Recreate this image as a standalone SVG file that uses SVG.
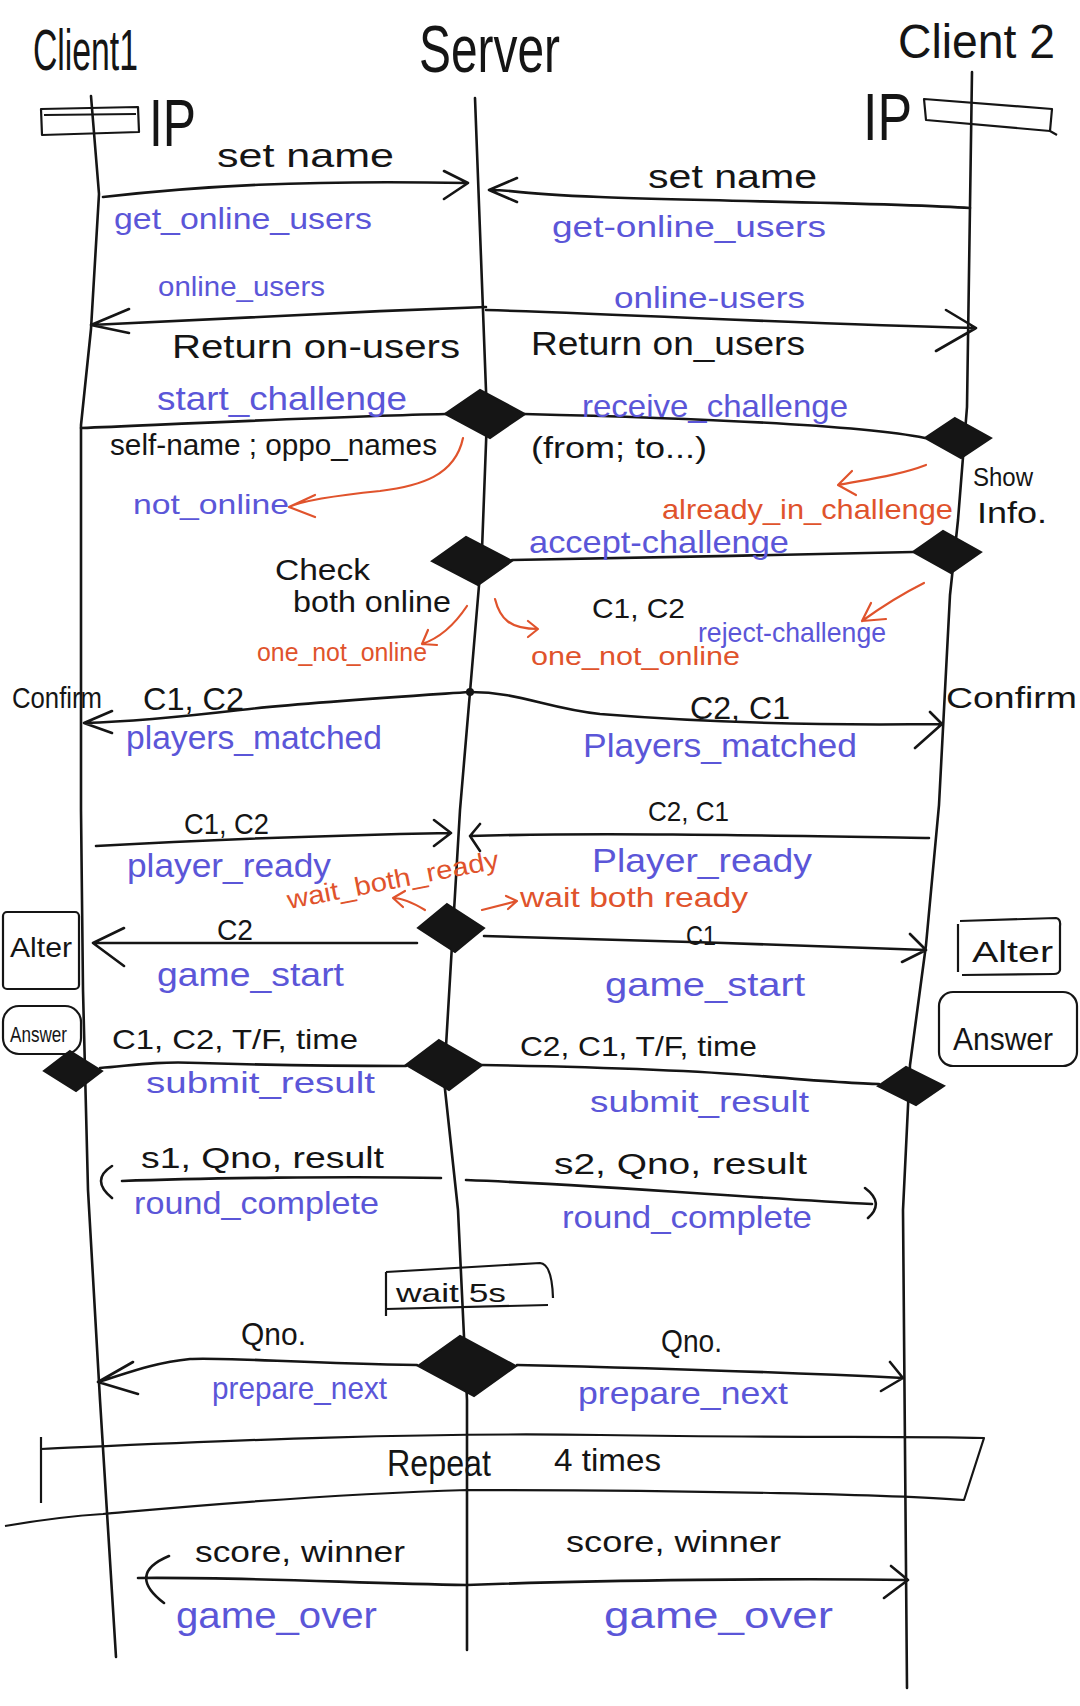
<svg xmlns="http://www.w3.org/2000/svg" width="1080" height="1706" viewBox="0 0 1080 1706">
<style>
text{font-family:"Liberation Sans",Arial,sans-serif;fill:#151515}
.b{fill:#5b56d8}
.r{fill:#e0532c}
.ln{fill:none;stroke:#151515;stroke-width:2.6;stroke-linecap:round;stroke-linejoin:round}
.rl{fill:none;stroke:#e0532c;stroke-width:2.2;stroke-linecap:round;stroke-linejoin:round}
.dm{fill:#151515;stroke:#151515;stroke-width:2}
.bx{fill:none;stroke:#151515;stroke-width:2.2;stroke-linejoin:round}
</style>
<rect width="1080" height="1706" fill="#ffffff"/>

<g id="client1">
  <text x="33" y="70" font-size="58" textLength="105" lengthAdjust="spacingAndGlyphs">Client1</text>
  <path class="bx" d="M41,109 L138,107 L139,132 L42,135 Z M44,115 L136,114"/>
  <text x="149" y="146" font-size="66" textLength="47" lengthAdjust="spacingAndGlyphs">IP</text>
  <path class="ln" d="M91,96 L99,194 L91,329 L81,425 L81,810 L83,990 L88,1190 L100,1400 L116,1657"/>
</g>
<g id="server">
  <text x="419" y="72" font-size="66" textLength="141" lengthAdjust="spacingAndGlyphs">Server</text>
  <path class="ln" d="M475,98 L487,417 L482,550 L470,692 L460,810 L444,1080 L458,1210 L467,1400 L467,1650"/>
</g>
<g id="client2">
  <text x="898" y="58" font-size="48" textLength="157" lengthAdjust="spacingAndGlyphs">Client 2</text>
  <path class="bx" d="M924,99 L1052,109 L1050,131 L926,120 Z M1050,131 L1057,135"/>
  <text x="863" y="140" font-size="66" textLength="49" lengthAdjust="spacingAndGlyphs">IP</text>
  <path class="ln" d="M972,72 L967,407 L958,520 L950,595 L939,805 L926,945 L910,1065 L903,1210 L907,1688"/>
</g>

<g id="activations">
  <polygon id="d-start" class="dm" points="480,390 525,414 490,438 445,414"/>
  <polygon id="d-receive" class="dm" points="955,418 991,438 961,458 925,438"/>
  <polygon id="d-accept" class="dm" points="943,531 981,552 951,573 913,552"/>
  <polygon id="d-check" class="dm" points="466,537 512,561 478,585 432,561"/>
  <polygon id="d-gamestart" class="dm" points="447,904 484,928 455,952 418,928"/>
  <polygon id="d-submit1" class="dm" points="70,1051 102,1071 76,1091 44,1071"/>
  <polygon id="d-submit-s" class="dm" points="439,1040 482,1065 449,1090 406,1065"/>
  <polygon id="d-submit2" class="dm" points="906,1067 944,1086 916,1105 878,1086"/>
  <polygon id="d-prepare" class="dm" points="460,1336 516,1366 474,1396 418,1366"/>
  <circle cx="470" cy="692" r="4" fill="#151515"/>
</g>

<g id="notes">
  <g id="alter1"><rect class="bx" x="3" y="912" width="76" height="77" rx="4"/>
    <text x="10" y="957" font-size="28" textLength="62" lengthAdjust="spacingAndGlyphs">Alter</text></g>
  <g id="answer1"><rect class="bx" x="3" y="1006" width="78" height="48" rx="16"/>
    <text x="10" y="1042" font-size="22" textLength="57" lengthAdjust="spacingAndGlyphs">Answer</text></g>
  <g id="alter2"><path class="bx" d="M960,921 L1056,918 Q1061,919 1060,926 L1060,970 Q1059,974 1054,974 L962,975"/>
    <path class="bx" d="M958,924 L958,972"/>
    <text x="972" y="962" font-size="30" textLength="81" lengthAdjust="spacingAndGlyphs">Alter</text></g>
  <g id="answer2"><rect class="bx" x="939" y="992" width="138" height="74" rx="14"/>
    <text x="953" y="1050" font-size="32" textLength="100" lengthAdjust="spacingAndGlyphs">Answer</text></g>
  <g id="wait5s"><path class="bx" d="M386,1272 L540,1263 Q552,1264 553,1298 M386,1272 L386,1316 M386,1309 L548,1305"/>
    <text x="396" y="1302" font-size="26" textLength="110" lengthAdjust="spacingAndGlyphs">wait 5s</text></g>
  <g id="repeat"><path class="bx" d="M41,1449 C200,1442 400,1432 600,1435 C800,1438 900,1436 984,1438 L964,1500 C900,1495 700,1490 468,1490 C300,1495 150,1510 103,1514 C70,1516 40,1520 5,1526 M41,1437 L41,1503"/>
    <text x="387" y="1476" font-size="36" textLength="104" lengthAdjust="spacingAndGlyphs">Repeat</text>
    <text x="554" y="1471" font-size="32" textLength="107" lengthAdjust="spacingAndGlyphs">4 times</text></g>
</g>

<g id="connectors">
  <path class="ln" d="M103,197 C200,186 300,180 468,183 M444,171 L468,183 L444,199"/>
  <path class="ln" d="M970,208 C900,203 700,201 600,197 S520,190 489,190 M517,178 L489,190 L517,202"/>
  <path class="ln" d="M486,307 C350,312 200,319 91,325 M129,309 L91,325 L129,333"/>
  <path class="ln" d="M486,310 C650,315 800,324 976,328 M946,310 L976,328 L936,351"/>
  <path class="ln" d="M81,428 C200,423 350,416 446,414"/>
  <path class="ln" d="M524,414 C650,417 850,423 925,438"/>
  <path class="ln" d="M913,552 C800,555 600,558 512,560"/>
  <path class="rl" d="M463,438 C455,476 420,486 380,491 C330,496 300,502 289,507 M315,495 L289,507 L315,517"/>
  <path class="rl" d="M926,465 C900,475 870,479 838,485 M852,471 L838,485 L856,495"/>
  <path class="rl" d="M467,606 C455,624 440,638 422,644 M437,645 L422,644 L428,630"/>
  <path class="rl" d="M495,599 C500,619 510,629 538,629 M528,621 L538,629 L528,637"/>
  <path class="rl" d="M924,583 C900,595 880,608 862,621 M886,619 L862,621 L871,603"/>
  <path class="ln" d="M470,692 C380,698 300,703 240,710 C180,717 120,722 84,723 M112,711 L84,723 L112,733"/>
  <path class="ln" d="M470,692 C520,692 545,708 600,714 C700,722 800,726 942,724 M930,712 L942,724 L915,748"/>
  <path class="ln" d="M96,846 C200,840 350,835 451,833 M434,820 L451,833 L434,846"/>
  <path class="ln" d="M929,838 C800,836 600,832 470,836 M480,824 L470,836 L480,851"/>
  <path class="rl" d="M425,910 C410,901 400,898 393,898 M405,891 L393,898 L403,907"/>
  <path class="rl" d="M482,910 L517,901 M506,896 L517,901 L508,909"/>
  <path class="ln" d="M417,943 C300,943 200,943 93,943 M124,928 L93,943 L124,966"/>
  <path class="ln" d="M484,936 C600,939 800,945 926,950 M910,934 L926,950 L902,962"/>
  <path class="ln" d="M100,1068 C130,1066 150,1061 200,1063 C300,1066 380,1066 406,1066"/>
  <path class="ln" d="M482,1065 C600,1067 700,1071 760,1076 C820,1081 860,1084 879,1084"/>
  <path class="ln" d="M441,1178 C350,1176 200,1178 122,1181 M112,1166 Q90,1180 112,1198"/>
  <path class="ln" d="M466,1180 C600,1185 750,1198 872,1204 M865,1188 Q885,1203 868,1218"/>
  <path class="ln" d="M417,1365 C300,1363 220,1357 190,1359 C150,1363 120,1376 98,1382 M133,1362 L98,1382 L138,1394"/>
  <path class="ln" d="M517,1365 C650,1368 800,1373 903,1378 M890,1362 L903,1378 L881,1391"/>
  <path class="ln" d="M467,1585 C350,1583 250,1577 138,1578 M169,1556 Q126,1574 164,1603"/>
  <path class="ln" d="M467,1585 C600,1580 800,1578 908,1580 M891,1566 L908,1580 L884,1598"/>
</g>

<g id="labels">
  <text x="217" y="167" font-size="34" textLength="177" lengthAdjust="spacingAndGlyphs">set name</text>
  <text class="b" x="114" y="229" font-size="30" textLength="258" lengthAdjust="spacingAndGlyphs">get_online_users</text>
  <text x="648" y="188" font-size="34" textLength="169" lengthAdjust="spacingAndGlyphs">set name</text>
  <text class="b" x="552" y="237" font-size="30" textLength="274" lengthAdjust="spacingAndGlyphs">get-online_users</text>
  <text class="b" x="158" y="296" font-size="28" textLength="167" lengthAdjust="spacingAndGlyphs">online_users</text>
  <text x="172" y="358" font-size="34" textLength="288" lengthAdjust="spacingAndGlyphs">Return on-users</text>
  <text class="b" x="614" y="308" font-size="30" textLength="191" lengthAdjust="spacingAndGlyphs">online-users</text>
  <text x="531" y="355" font-size="34" textLength="274" lengthAdjust="spacingAndGlyphs">Return on_users</text>
  <text class="b" x="157" y="410" font-size="34" textLength="250" lengthAdjust="spacingAndGlyphs">start_challenge</text>
  <text class="b" x="582" y="417" font-size="32" textLength="266" lengthAdjust="spacingAndGlyphs">receive_challenge</text>
  <text x="110" y="455" font-size="30" textLength="327" lengthAdjust="spacingAndGlyphs">self-name ; oppo_names</text>
  <text x="531" y="458" font-size="30" textLength="176" lengthAdjust="spacingAndGlyphs">(from; to...)</text>
  <text class="b" x="133" y="514" font-size="28" textLength="156" lengthAdjust="spacingAndGlyphs">not_online</text>
  <text class="r" x="662" y="519" font-size="28" textLength="291" lengthAdjust="spacingAndGlyphs">already_in_challenge</text>
  <text x="973" y="486" font-size="26" textLength="60" lengthAdjust="spacingAndGlyphs">Show</text>
  <text x="977" y="523" font-size="30" textLength="70" lengthAdjust="spacingAndGlyphs">Info.</text>
  <text class="b" x="529" y="553" font-size="32" textLength="260" lengthAdjust="spacingAndGlyphs">accept-challenge</text>
  <text x="275" y="580" font-size="30" textLength="95" lengthAdjust="spacingAndGlyphs">Check</text>
  <text x="293" y="612" font-size="30" textLength="158" lengthAdjust="spacingAndGlyphs">both online</text>
  <text class="r" x="257" y="661" font-size="26" textLength="170" lengthAdjust="spacingAndGlyphs">one_not_online</text>
  <text class="r" x="531" y="665" font-size="26" textLength="209" lengthAdjust="spacingAndGlyphs">one_not_online</text>
  <text x="592" y="618" font-size="28" textLength="93" lengthAdjust="spacingAndGlyphs">C1, C2</text>
  <text class="b" x="698" y="642" font-size="28" textLength="188" lengthAdjust="spacingAndGlyphs">reject-challenge</text>
  <text x="12" y="708" font-size="30" textLength="90" lengthAdjust="spacingAndGlyphs">Confirm</text>
  <text x="143" y="710" font-size="32" textLength="101" lengthAdjust="spacingAndGlyphs">C1, C2</text>
  <text class="b" x="126" y="749" font-size="34" textLength="256" lengthAdjust="spacingAndGlyphs">players_matched</text>
  <text x="690" y="719" font-size="32" textLength="100" lengthAdjust="spacingAndGlyphs">C2, C1</text>
  <text class="b" x="583" y="757" font-size="34" textLength="274" lengthAdjust="spacingAndGlyphs">Players_matched</text>
  <text x="946" y="708" font-size="30" textLength="131" lengthAdjust="spacingAndGlyphs">Confirm</text>
  <text x="184" y="834" font-size="30" textLength="85" lengthAdjust="spacingAndGlyphs">C1, C2</text>
  <text class="b" x="127" y="877" font-size="34" textLength="204" lengthAdjust="spacingAndGlyphs">player_ready</text>
  <text x="648" y="821" font-size="28" textLength="81" lengthAdjust="spacingAndGlyphs">C2, C1</text>
  <text class="b" x="592" y="872" font-size="34" textLength="220" lengthAdjust="spacingAndGlyphs">Player_ready</text>
  <text class="r" x="289" y="909" font-size="26" textLength="215" lengthAdjust="spacingAndGlyphs" transform="rotate(-11 289 909)">wait_both_ready</text>
  <text class="r" x="520" y="907" font-size="28" textLength="228" lengthAdjust="spacingAndGlyphs">wait both ready</text>
  <text x="217" y="940" font-size="30" textLength="36" lengthAdjust="spacingAndGlyphs">C2</text>
  <text class="b" x="157" y="986" font-size="34" textLength="187" lengthAdjust="spacingAndGlyphs">game_start</text>
  <text x="686" y="945" font-size="28" textLength="30" lengthAdjust="spacingAndGlyphs">C1</text>
  <text class="b" x="605" y="996" font-size="34" textLength="200" lengthAdjust="spacingAndGlyphs">game_start</text>
  <text x="112" y="1049" font-size="28" textLength="246" lengthAdjust="spacingAndGlyphs">C1, C2, T/F, time</text>
  <text class="b" x="146" y="1093" font-size="30" textLength="229" lengthAdjust="spacingAndGlyphs">submit_result</text>
  <text x="520" y="1056" font-size="28" textLength="237" lengthAdjust="spacingAndGlyphs">C2, C1, T/F, time</text>
  <text class="b" x="590" y="1112" font-size="30" textLength="219" lengthAdjust="spacingAndGlyphs">submit_result</text>
  <text x="141" y="1168" font-size="30" textLength="243" lengthAdjust="spacingAndGlyphs">s1, Qno, result</text>
  <text class="b" x="134" y="1214" font-size="32" textLength="245" lengthAdjust="spacingAndGlyphs">round_complete</text>
  <text x="554" y="1174" font-size="30" textLength="253" lengthAdjust="spacingAndGlyphs">s2, Qno, result</text>
  <text class="b" x="562" y="1228" font-size="32" textLength="250" lengthAdjust="spacingAndGlyphs">round_complete</text>
  <text x="241" y="1345" font-size="32" textLength="65" lengthAdjust="spacingAndGlyphs">Qno.</text>
  <text class="b" x="212" y="1399" font-size="32" textLength="175" lengthAdjust="spacingAndGlyphs">prepare_next</text>
  <text x="661" y="1352" font-size="32" textLength="61" lengthAdjust="spacingAndGlyphs">Qno.</text>
  <text class="b" x="578" y="1404" font-size="32" textLength="210" lengthAdjust="spacingAndGlyphs">prepare_next</text>
  <text x="195" y="1562" font-size="30" textLength="210" lengthAdjust="spacingAndGlyphs">score, winner</text>
  <text class="b" x="176" y="1628" font-size="36" textLength="201" lengthAdjust="spacingAndGlyphs">game_over</text>
  <text x="566" y="1552" font-size="30" textLength="215" lengthAdjust="spacingAndGlyphs">score, winner</text>
  <text class="b" x="604" y="1628" font-size="36" textLength="229" lengthAdjust="spacingAndGlyphs">game_over</text>
</g>
</svg>
